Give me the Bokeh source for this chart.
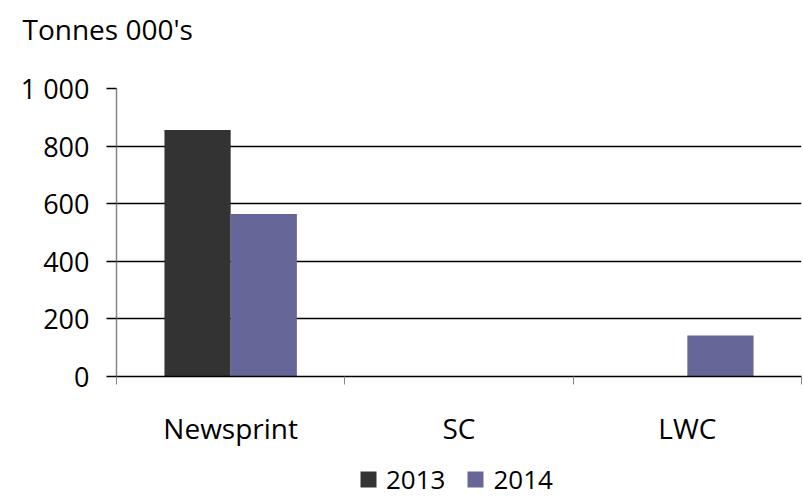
from bokeh.plotting import figure
from bokeh.models import Range1d, FixedTicker, Legend, LegendItem, Title
from bokeh.layouts import column
from bokeh.embed import file_html
from bokeh.resources import INLINE

categories = ["Newsprint", "SC", "LWC"]
series_names = ["2013", "2014"]
values_2013 = [856, 0, 0]
values_2014 = [564, 0, 142]
colors = ["#333333", "#666699"]
y_ticks = [0, 200, 400, 600, 800, 1000]
y_tick_labels = ["0", "200", "400", "600", "800", "1 000"]
y_axis_title = "Tonnes 000's"

FONT = "Open Sans"
W = 803
TITLE_H = 56
LEGEND_H = 40
MAIN_H = 497 - TITLE_H - LEGEND_H
FRAME_L = 116
FRAME_R = 2


def bare(h, xr, yr):
    f = figure(width=W, height=h, output_backend="svg", toolbar_location=None,
               x_range=xr, y_range=yr, x_axis_type=None, y_axis_type=None)
    f.min_border_left = FRAME_L
    f.min_border_right = FRAME_R
    f.min_border_top = 0
    f.min_border_bottom = 0
    f.outline_line_color = None
    f.xgrid.grid_line_color = None
    f.ygrid.grid_line_color = None
    f.background_fill_color = "white"
    f.border_fill_color = "white"
    return f


centers = [i + 0.5 for i in range(len(categories))]
bw = 0.29

# --- title strip
pt = bare(TITLE_H, Range1d(0, len(categories)), Range1d(0, 1))
pt.add_layout(Title(text=y_axis_title, align="left", offset=22 - FRAME_L, standoff=14,
                    vertical_align="bottom", text_font=FONT, text_font_size="28px",
                    text_font_style="normal", text_color="black"), "above")

# --- main chart
p = figure(width=W, height=MAIN_H, output_backend="svg", toolbar_location=None,
           x_range=Range1d(0, len(categories)), y_range=Range1d(0, 1000))
p.min_border_left = FRAME_L
p.min_border_right = FRAME_R
p.min_border_top = 88 - TITLE_H
p.min_border_bottom = MAIN_H - (376 - TITLE_H)
p.outline_line_color = None
p.background_fill_color = "white"
p.border_fill_color = "white"

p.vbar(x=[c - bw / 2 for c in centers], top=values_2013, width=bw,
       fill_color=colors[0], line_color=None)
p.vbar(x=[c + bw / 2 for c in centers], top=values_2014, width=bw,
       fill_color=colors[1], line_color=None)

xa = p.xaxis[0]
xa.ticker = FixedTicker(ticks=centers, minor_ticks=list(range(len(categories) + 1)))
xa.major_label_overrides = {c: name for c, name in zip(centers, categories)}
xa.major_tick_in = 0
xa.major_tick_out = 0
xa.minor_tick_in = 0
xa.minor_tick_out = 8
xa.minor_tick_line_color = "#868686"
xa.axis_line_color = "black"
xa.axis_line_width = 1.5
xa.major_label_text_font = FONT
xa.major_label_text_font_size = "28px"
xa.major_label_text_color = "black"
xa.major_label_standoff = 24

ya = p.yaxis[0]
ya.ticker = FixedTicker(ticks=y_ticks)
ya.major_label_overrides = {t: l for t, l in zip(y_ticks, y_tick_labels)}
ya.major_tick_in = 0
ya.major_tick_out = 10
ya.major_tick_line_color = "black"
ya.major_tick_line_width = 1.5
ya.minor_tick_line_color = None
ya.axis_line_color = "#868686"
ya.axis_line_width = 1.5
ya.major_label_text_font = FONT
ya.major_label_text_font_size = "27px"
ya.major_label_text_color = "black"
ya.major_label_standoff = 17

p.xgrid.grid_line_color = None
p.ygrid.ticker = FixedTicker(ticks=y_ticks)
p.ygrid.grid_line_color = "black"
p.ygrid.grid_line_width = 1.5

# --- legend strip (hidden key renderers; legend keeps their styling)
pl = bare(LEGEND_H, Range1d(0, len(categories)), Range1d(0, 1000))
k1 = pl.vbar(x=[c - bw / 2 for c in centers], top=values_2013, width=bw,
             fill_color=colors[0], line_color=None, visible=False)
k2 = pl.vbar(x=[c + bw / 2 for c in centers], top=values_2014, width=bw,
             fill_color=colors[1], line_color=None, visible=False)
legend = Legend(items=[LegendItem(label=series_names[0], renderers=[k1]),
                       LegendItem(label=series_names[1], renderers=[k2])],
                location=(358 - FRAME_L, 0), orientation="horizontal",
                label_text_font=FONT, label_text_font_size="26px",
                label_text_color="black", click_policy="none",
                glyph_width=20, glyph_height=20, label_standoff=8, spacing=20,
                padding=0, margin=0, border_line_color=None,
                background_fill_alpha=0)
pl.add_layout(legend)

layout = column(pt, p, pl, spacing=0)
open("out.html", "w").write(file_html(layout, INLINE))
